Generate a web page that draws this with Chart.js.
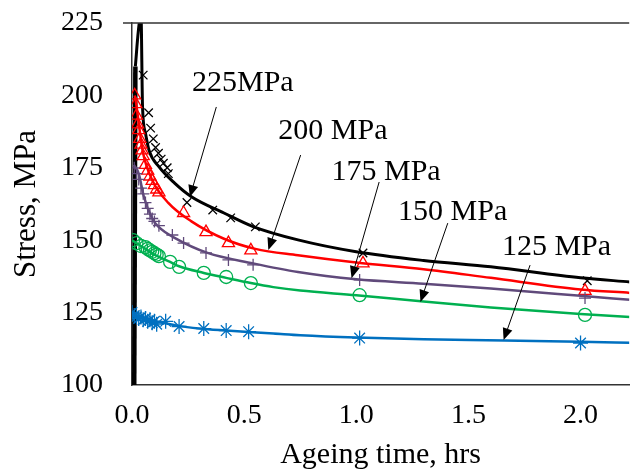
<!DOCTYPE html>
<html>
<head>
<meta charset="utf-8">
<script src="https://cdn.jsdelivr.net/npm/chart.js@4.4.1/dist/chart.umd.min.js"></script>
<style>
  html, body { margin: 0; padding: 0; background: #fff; }
  #wrap { width: 638px; height: 470px; position: relative; }
</style>
</head>
<body>
<div id="wrap"><canvas id="c"></canvas></div>
<script>
// ---- data ----
const seriesNames = ["225MPa", "200 MPa", "175 MPa", "150 MPa", "125 MPa"];
const xTicks = [0, 0.5, 1.0, 1.5, 2.0];
const yTicks = [100, 125, 150, 175, 200, 225];

// fitted curves [time, stress]
const loading225 = [[0.01,100],[0.015,210]];
const curve225 = [[0.015,210],[0.028,222],[0.04,228],[0.047,196],[0.06,187],[0.076,181],[0.12,175.4],[0.19,169.7],[0.265,165],[0.41,159.4],[0.54,154.7],[0.74,150.1],[1.0,146],[1.3,143],[1.6,140.8],[2.0,137],[2.22,135.6]];
const curve200 = [[0.012,200],[0.017,198],[0.03,190.5],[0.047,181],[0.09,170.8],[0.163,162.8],[0.265,156.5],[0.41,150.5],[0.55,147],[0.74,144.8],[1.0,142.3],[1.3,140],[1.6,137],[2.0,133],[2.22,131.8]];
const curve175 = [[0.008,176],[0.03,173],[0.053,165],[0.09,157.5],[0.12,154.5],[0.19,150.8],[0.337,145.6],[0.54,142],[0.74,139],[1.0,136.5],[1.3,135],[1.6,133.3],[2.0,130.8],[2.22,129.4]];
const curve150 = [[0.0,150],[0.03,148.5],[0.06,147],[0.1,145],[0.17,142.5],[0.21,141],[0.32,138.7],[0.42,137],[0.53,135.2],[0.63,133.8],[0.75,132.6],[1.0,131],[1.3,128.8],[1.6,126.8],[2.0,124.5],[2.22,123.5]];
const curve125 = [[0.0,125],[0.05,123],[0.1,122],[0.15,121.3],[0.2,120.5],[0.3,119.5],[0.42,118.8],[0.52,118.3],[0.63,117.8],[0.75,117.2],[1.0,116.4],[1.3,115.8],[1.66,115.4],[2.0,114.9],[2.22,114.6]];

// measured points [time, stress]
const pts225 = [[0.05,207],[0.074,194],[0.083,188.7],[0.095,185],[0.105,182],[0.118,180],[0.13,178],[0.14,176.6],[0.157,175],[0.162,173],[0.245,163],[0.36,160.4],[0.44,157.7],[0.55,154.6],[1.03,145.6],[2.03,136]];
const pts200 = [[0.012,200],[0.017,197],[0.02,193],[0.025,190],[0.03,188],[0.035,185],[0.04,183],[0.045,181],[0.05,179],[0.06,176],[0.07,174],[0.08,172],[0.09,170.5],[0.1,169],[0.11,167.5],[0.12,166.5],[0.23,159.4],[0.33,152.8],[0.43,149],[0.53,146.5],[1.03,142],[2.02,132.5]];
const pts175 = [[0.01,175],[0.02,173],[0.03,171],[0.04,168],[0.05,166],[0.06,163],[0.07,161],[0.08,159],[0.09,157.5],[0.1,156.5],[0.12,155],[0.18,151.8],[0.23,149],[0.33,145.6],[0.43,143.2],[0.54,141.5],[1.015,136.3],[2.02,130]];
const pts150 = [[0.005,150],[0.02,149],[0.04,148],[0.06,147.6],[0.07,147],[0.08,146.5],[0.09,146],[0.1,145.5],[0.11,145],[0.12,144.5],[0.17,142.5],[0.21,140.8],[0.32,138.7],[0.42,137.3],[0.53,135.2],[1.015,131],[2.02,124.2]];
const pts125 = [[0.0,125],[0.01,124],[0.02,123.5],[0.03,123],[0.04,123.5],[0.05,122.5],[0.06,123],[0.07,122],[0.08,122.5],[0.09,121.5],[0.1,122],[0.11,121],[0.15,122],[0.21,120.2],[0.32,119.5],[0.42,118.8],[0.52,118.4],[1.015,116.2],[2.0,114.5]];

// annotation: label anchor [x,y], arrow start [x,y], arrow tip [x,y] (data coords)
const labelAt = [[0.494,204.3],[0.896,187.7],[1.133,173.6],[1.43,159.7],[1.893,147.7]];
const arrowFrom = [[0.376,196],[0.752,179.4],[1.102,170.1],[1.408,155.9],[1.775,141.4]];
const arrowTo = [[0.258,164.9],[0.608,146.6],[0.979,136.9],[1.286,128.7],[1.657,115.5]];

const FONT = '"Liberation Serif", "Times New Roman", serif';
const toXY = a => a.map(p => ({x: p[0], y: p[1]}));

const colors = ['#000000', '#ff0000', '#604a7b', '#00b050', '#0070c0'];
const curves = [curve225, curve200, curve175, curve150, curve125];
const pts = [pts225, pts200, pts175, pts150, pts125];
const styles = ['crossRot', 'triangle', 'cross', 'circle', 'star'];
const radii = [6, 7, 6, 6.5, 7.5];

const datasets = [];
for (let i = 4; i >= 0; i--) {
  datasets.push({
    label: seriesNames[i] + ' fit',
    data: toXY(curves[i]),
    showLine: true,
    borderColor: colors[i],
    borderWidth: i === 0 ? 3 : 2.5,
    pointRadius: 0,
    tension: 0.4,
    cubicInterpolationMode: 'monotone',
    fill: false
  });
  datasets.push({
    label: seriesNames[i],
    data: toXY(pts[i]),
    showLine: false,
    pointStyle: styles[i],
    pointRadius: radii[i],
    borderColor: colors[i],
    backgroundColor: 'rgba(0,0,0,0)',
    pointBorderWidth: 1.3
  });
}
// thick loading line of the 225 MPa test
datasets.push({
  label: 'loading',
  data: toXY(loading225),
  showLine: true,
  tension: 0,
  borderColor: '#000',
  borderWidth: 4.5,
  pointRadius: 0
});

const annot = {
  id: 'annot',
  afterDraw(chart) {
    const ctx = chart.ctx, xs = chart.scales.x, ys = chart.scales.y, ca = chart.chartArea;
    ctx.save();
    // top border
    ctx.strokeStyle = '#333';
    ctx.lineWidth = 1.5;
    ctx.beginPath();
    ctx.moveTo(ca.left - 9, ca.top);
    ctx.lineTo(ca.right, ca.top);
    ctx.stroke();
    ctx.fillStyle = '#000';
    ctx.strokeStyle = '#000';
    ctx.font = '30px ' + FONT;
    ctx.textAlign = 'center';
    ctx.textBaseline = 'middle';
    for (let i = 0; i < seriesNames.length; i++) {
      const tx = xs.getPixelForValue(labelAt[i][0]), ty = ys.getPixelForValue(labelAt[i][1]);
      ctx.fillText(seriesNames[i], tx, ty);
      const x1 = xs.getPixelForValue(arrowFrom[i][0]), y1 = ys.getPixelForValue(arrowFrom[i][1]);
      const x2 = xs.getPixelForValue(arrowTo[i][0]), y2 = ys.getPixelForValue(arrowTo[i][1]);
      const ang = Math.atan2(y2 - y1, x2 - x1);
      const hl = 12, hw = 5;
      ctx.lineWidth = 1;
      ctx.beginPath();
      ctx.moveTo(x1, y1);
      ctx.lineTo(x2 - Math.cos(ang) * hl * 0.8, y2 - Math.sin(ang) * hl * 0.8);
      ctx.stroke();
      ctx.beginPath();
      ctx.moveTo(x2, y2);
      ctx.lineTo(x2 - Math.cos(ang) * hl - Math.sin(ang) * hw, y2 - Math.sin(ang) * hl + Math.cos(ang) * hw);
      ctx.lineTo(x2 - Math.cos(ang) * hl + Math.sin(ang) * hw, y2 - Math.sin(ang) * hl - Math.cos(ang) * hw);
      ctx.closePath();
      ctx.fill();
    }
    ctx.restore();
  }
};

new Chart(document.getElementById('c'), {
  type: 'scatter',
  data: { datasets },
  options: {
    responsive: true,
    maintainAspectRatio: false,
    animation: false,
    layout: { padding: { top: 23, right: 0, left: 0, bottom: 0 } },
    plugins: { legend: { display: false }, tooltip: { enabled: false } },
    scales: {
      x: {
        type: 'linear',
        min: 0, max: 2.217,
        afterBuildTicks: s => { s.ticks = xTicks.map(v => ({ value: v })); },
        afterFit: s => { s.height = 85; s.paddingLeft = 0; s.paddingRight = 0; },
        grid: { display: false, drawOnChartArea: false, drawTicks: true, tickLength: 10, tickColor: '#333', tickWidth: 1.5 },
        border: { display: true, color: '#333', width: 1.5 },
        ticks: { color: '#000', font: { family: FONT, size: 28 }, padding: 4, maxRotation: 0, callback: v => Number(v).toFixed(1) },
        title: { display: true, text: 'Ageing time, hrs', color: '#000', font: { family: FONT, size: 30, lineHeight: 1 }, padding: { top: 0, bottom: 0 } }
      },
      y: {
        type: 'linear',
        min: 100, max: 225,
        afterBuildTicks: s => { s.ticks = yTicks.map(v => ({ value: v })); },
        afterFit: s => { s.width = 132; s.paddingTop = 0; s.paddingBottom = 0; },
        grid: { display: false, drawOnChartArea: false, drawTicks: true, tickLength: 10, tickColor: '#333', tickWidth: 1.5 },
        border: { display: true, color: '#333', width: 1.5 },
        ticks: { color: '#000', font: { family: FONT, size: 28 }, padding: 19 },
        title: { display: true, text: 'Stress, MPa', color: '#000', font: { family: FONT, size: 31, lineHeight: 1 }, padding: { top: 11, bottom: 0 } }
      }
    }
  },
  plugins: [annot]
});
</script>
</body>
</html>
